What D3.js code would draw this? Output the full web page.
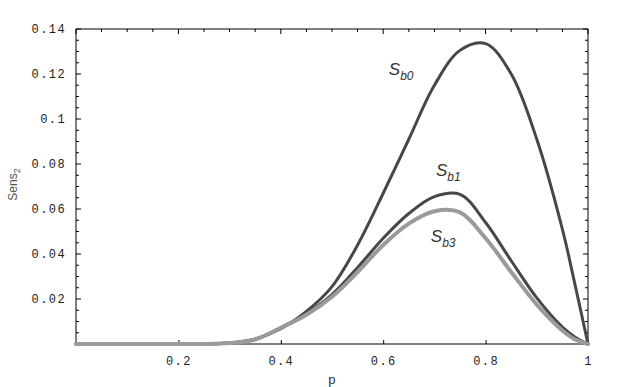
<!DOCTYPE html>
<html>
<head>
<meta charset="utf-8">
<script src="https://cdn.jsdelivr.net/npm/d3@7"></script>
<style>
  body { margin: 0; background: #fff; }
  .tick-label { font-family: "Liberation Mono", "DejaVu Sans Mono", monospace; font-size: 12px; fill: #222; letter-spacing: 1.4px; }
  .curve-label { font-family: "Liberation Sans", Arial, sans-serif; font-style: italic; fill: #333; }
</style>
</head>
<body>
<div id="chart"></div>
<script>
// values
var pValues = [0, 0.05, 0.1, 0.15, 0.2, 0.25, 0.3, 0.35, 0.4, 0.45, 0.5, 0.55, 0.6, 0.65, 0.7, 0.75, 0.8, 0.85, 0.9, 0.95, 0.975, 1];
var sb0 = [0, 0, 0, 0, 0, 0, 0.0004, 0.0022, 0.0068, 0.0145, 0.0255, 0.044, 0.067, 0.091, 0.115, 0.1305, 0.1335, 0.12, 0.091, 0.051, 0.026, 0];
var sb1 = [0, 0, 0, 0, 0, 0, 0.0004, 0.002, 0.0072, 0.0135, 0.022, 0.034, 0.047, 0.058, 0.0655, 0.0665, 0.054, 0.037, 0.0205, 0.0075, 0.003, 0];
var sb3 = [0, 0, 0, 0, 0, 0, 0.0004, 0.002, 0.0072, 0.013, 0.021, 0.032, 0.044, 0.0535, 0.059, 0.0585, 0.047, 0.032, 0.0175, 0.006, 0.002, 0];
var xTicks = [0.2, 0.4, 0.6, 0.8, 1];
var yTicks = [0.02, 0.04, 0.06, 0.08, 0.1, 0.12, 0.14];

var margin = {top: 29, right: 35, bottom: 43, left: 76},
    width = 623 - margin.left - margin.right,
    height = 387 - margin.top - margin.bottom;

var x = d3.scaleLinear().domain([0, 1]).range([0, width]);
var y = d3.scaleLinear().domain([0, 0.14]).range([height, 0]);

var svg = d3.select("#chart").append("svg")
    .attr("width", 623)
    .attr("height", 387)
  .append("g")
    .attr("transform", "translate(" + margin.left + "," + margin.top + ")");

// frame: left, top, right lines with ticks
svg.append("path")
    .attr("d", "M0," + height + "V0H" + width + "V" + height)
    .attr("fill", "none").attr("stroke", "#000").attr("stroke-width", 1);

var yMinor = d3.range(0, 0.1401, 0.005);
yMinor.forEach(function(v, i) {
    var len = i % 4 === 0 ? 5 : 3;
    svg.append("line").attr("x1", 0).attr("x2", len)
        .attr("y1", y(v)).attr("y2", y(v)).attr("stroke", "#000");
    svg.append("line").attr("x1", width).attr("x2", width - len)
        .attr("y1", y(v)).attr("y2", y(v)).attr("stroke", "#000");
});
var xMinor = d3.range(0, 1.001, 0.05);
xMinor.forEach(function(v, i) {
    var len = i % 4 === 0 ? 5 : 3;
    svg.append("line").attr("x1", x(v)).attr("x2", x(v))
        .attr("y1", 0).attr("y2", len).attr("stroke", "#000");
});

// bottom axis at y = 0
var xAxis = svg.append("g")
    .attr("transform", "translate(0," + height + ")")
    .call(d3.axisBottom(x).tickValues(xTicks).tickSize(-4).tickFormat(d3.format("")));
xAxis.select(".domain").attr("d", "M0,0H" + width);
xAxis.selectAll("text").attr("class", "tick-label").attr("y", 12).attr("dy", "0.71em").attr("font-size", null).attr("font-family", null);

// y tick labels
svg.selectAll(".ylab")
    .data(yTicks)
  .enter().append("text")
    .attr("class", "tick-label")
    .attr("x", -10)
    .attr("y", d => y(d))
    .attr("dy", "0.35em")
    .attr("text-anchor", "end")
    .text(d => d3.format("")(+d.toFixed(2)));

// curves
var line = d3.line()
    .x((d, i) => x(pValues[i]))
    .y(d => y(d))
    .curve(d3.curveCatmullRom.alpha(0.5));

[{v: sb0, c: "#474747", w: 3}, {v: sb1, c: "#474747", w: 3}, {v: sb3, c: "#9a9a9a", w: 4}].forEach(s => {
    svg.append("path")
        .datum(s.v)
        .attr("fill", "none")
        .attr("stroke", s.c)
        .attr("stroke-width", s.w)
        .attr("stroke-linejoin", "round")
        .attr("stroke-linecap", "round")
        .attr("d", line);
});

// curve labels
function curveLabel(px, py, sub) {
    var t = svg.append("text").attr("class", "curve-label")
        .attr("x", x(px)).attr("y", y(py)).attr("font-size", 17);
    t.append("tspan").text("S");
    t.append("tspan").attr("font-size", 12).attr("dy", 5).text(sub);
}
curveLabel(0.611, 0.1195, "b0");
curveLabel(0.703, 0.0745, "b1");
curveLabel(0.693, 0.0455, "b3");

// axis titles
svg.append("text")
    .attr("x", width / 2)
    .attr("y", height + 40)
    .attr("text-anchor", "middle")
    .style("font-family", "Liberation Mono, monospace")
    .style("font-size", "13px")
    .style("fill", "#333")
    .text("p");

var yl = svg.append("text")
    .attr("transform", "translate(" + (-margin.left + 17) + "," + (height / 2 - 2) + ") rotate(-90)")
    .attr("text-anchor", "middle")
    .style("font-family", "Liberation Sans, Arial, sans-serif")
    .style("font-size", "12px")
    .style("fill", "#555");
yl.append("tspan").text("Sens");
yl.append("tspan").attr("font-size", 9).attr("dy", 3).text("2");
</script>
</body>
</html>
